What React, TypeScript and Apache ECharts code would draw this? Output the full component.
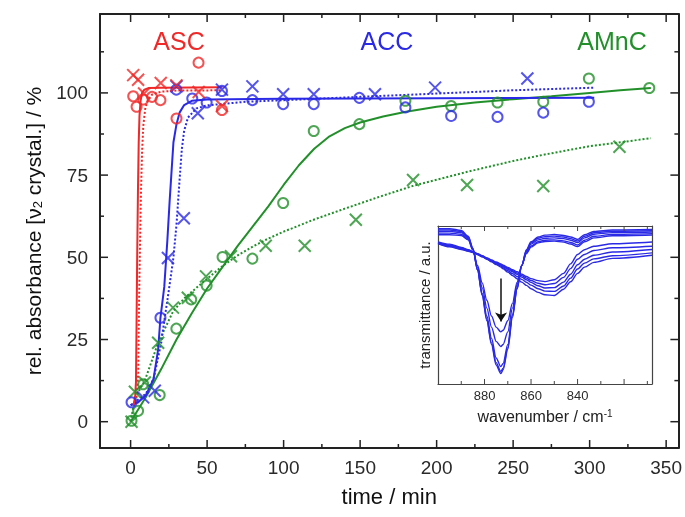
import React, { useEffect, useRef } from 'react';
import * as echarts from 'echarts';

const RED = '#f02828';
const BLUE = '#2a2ae6';
const GREEN = '#22902a';
const FONT = '"Liberation Sans", Arial, sans-serif';

// main axis ticks
const xMajor = [0, 50, 100, 150, 200, 250, 300, 350];
const xMinor = [25, 75, 125, 175, 225, 275, 325];
const yMajor = [0, 25, 50, 75, 100];
const yMinor = [12.5, 37.5, 62.5, 87.5, 112.5];

// ASC (red)
const ascCircles = [[1.7, 99], [3.9, 95.8], [8.2, 98], [14, 98.8], [19.5, 97.8], [30, 92.2], [44.4, 109.2], [59.7, 94.8]];
const ascCrosses = [[1.7, 105.4], [4.9, 104], [8.8, 99.8], [19.7, 103], [29.9, 102.3], [44.5, 100.3], [59.7, 96]];
const ascFitSolid = [[2, 5], [3, 8], [3.5, 12], [3.9, 30], [4.3, 50], [4.8, 70], [5.3, 85], [5.8, 93], [6.5, 97.5], [7.5, 100], [9, 101], [12, 101.5], [20, 101.6], [60, 101.7]];
const ascFitDotted = [[2, 5], [4, 8], [5, 15], [5.5, 35], [6, 50], [6.8, 70], [7.5, 82], [8.3, 90], [9.5, 95], [11, 97.5], [14, 99.5], [20, 100.4], [30, 100.7], [60, 100.8]];

// ACC (blue)
const accCircles = [[0.6, 5.9], [19.5, 31.6], [29.9, 101], [40.3, 98.3], [49.7, 97.1], [59.7, 100.6], [79.6, 97.8], [99.7, 96.6], [119.7, 96.6], [149.5, 98.5], [179.6, 95.6], [209.5, 93], [239.8, 92.7], [269.7, 94], [299.5, 97.3]];
const accCrosses = [[8.2, 7.4], [15.8, 9.4], [24.4, 49.8], [34.8, 61.9], [30, 102], [43.9, 93.8], [59.7, 101], [79.6, 102], [99.7, 99.6], [119.7, 99.6], [159.7, 99.6], [199, 101.6], [259.3, 104.4]];
const accFitSolid = [[0, 5], [5, 6], [10, 8], [15, 13], [18, 22], [19.5, 31.6], [22, 41], [24, 55], [25.5, 67], [26.6, 75], [28, 85], [30, 90.5], [32, 94], [35, 96.3], [40, 97.6], [50, 98], [100, 98.2], [200, 98.4], [303, 98.5]];
const accFitDotted = [[0, 5], [10, 8.5], [15, 13], [20, 24], [22.3, 31.6], [25, 40], [28, 50], [30, 60], [32, 73.5], [33.5, 83], [35, 88.5], [37.5, 92.5], [43, 95.3], [50, 96.2], [75, 97.3], [100, 97.8], [150, 98.8], [200, 99.8], [250, 100.8], [303, 101.6]];

// AMnC (green)
const amncCircles = [[0.6, 0.3], [4.9, 3.3], [8.2, 11.4], [19, 8.1], [29.9, 28.3], [39.6, 37.2], [49.7, 41.4], [60.1, 50.1], [79.6, 49.6], [99.7, 66.5], [119.7, 88.4], [149.5, 90.5], [179.6, 97.6], [209.5, 96], [239.8, 97.1], [269.7, 97.3], [299.5, 104.4], [339, 101.5]];
const amncCrosses = [[0.6, 0], [2.8, 9.1], [9.3, 11.9], [18, 24], [27.7, 34.7], [37.4, 37.7], [49.3, 44.2], [65.6, 50.3], [88.3, 53.5], [113.8, 53.5], [147.2, 61.4], [184.6, 73.5], [219.9, 72], [269.7, 71.7], [319.5, 83.6]];
const amncFitSolid = [[0, 0], [10, 7.5], [20, 16], [30, 25], [40, 33], [50, 40.5], [60, 47], [70, 53.5], [80, 59.5], [90, 65.5], [100, 72], [110, 78], [120, 83], [130, 86.8], [140, 89.3], [150, 91], [165, 92.8], [180, 94.3], [200, 95.8], [225, 97.1], [250, 98.1], [275, 99], [300, 100], [320, 100.8], [340, 101.5]];
const amncFitDotted = [[0, 0], [2, 5], [5, 9], [9.3, 12.5], [18, 24], [27.7, 33.5], [35, 37.5], [40, 39.5], [50, 43.5], [60, 47.3], [70, 50.6], [80, 53.3], [90, 55.7], [100, 57.8], [120, 61.5], [140, 64.8], [160, 68], [185, 71.8], [220, 76], [250, 79.3], [270, 81.2], [300, 83.8], [340, 86.2]];

// inset spectra
const insetLabels = [880, 860, 840];
const insetMajor = [880, 860, 840, 820];
const insetMinor = [890, 870, 850, 830, 810];
const wavenumbers = [900, 895, 890, 887, 885, 883, 881, 879, 877, 875, 873, 872, 870, 868, 866, 864, 862, 860, 857, 854, 850, 846, 843, 840, 837, 833, 825, 808];
const specC1 = [0.983, 0.983, 0.972, 0.935, 0.86, 0.72, 0.56, 0.4, 0.25, 0.12, 0.066, 0.09, 0.22, 0.42, 0.6, 0.75, 0.85, 0.9, 0.93, 0.942, 0.946, 0.94, 0.93, 0.915, 0.945, 0.965, 0.975, 0.978];
const specC2 = [0.975, 0.975, 0.965, 0.93, 0.857, 0.72, 0.565, 0.41, 0.26, 0.135, 0.08, 0.1, 0.23, 0.43, 0.605, 0.75, 0.845, 0.893, 0.922, 0.933, 0.936, 0.93, 0.92, 0.905, 0.935, 0.957, 0.967, 0.97];
const specC3 = [0.965, 0.966, 0.958, 0.925, 0.853, 0.725, 0.575, 0.43, 0.29, 0.165, 0.11, 0.13, 0.25, 0.44, 0.61, 0.748, 0.838, 0.885, 0.912, 0.922, 0.925, 0.92, 0.91, 0.895, 0.925, 0.948, 0.958, 0.962];
const specC4 = [0.955, 0.955, 0.948, 0.918, 0.85, 0.74, 0.61, 0.48, 0.36, 0.27, 0.237, 0.25, 0.33, 0.48, 0.63, 0.75, 0.83, 0.873, 0.9, 0.91, 0.912, 0.906, 0.896, 0.88, 0.91, 0.935, 0.947, 0.952];
const specC5 = [0.945, 0.945, 0.94, 0.912, 0.847, 0.75, 0.64, 0.53, 0.43, 0.36, 0.33, 0.34, 0.4, 0.51, 0.645, 0.752, 0.825, 0.866, 0.893, 0.902, 0.904, 0.898, 0.886, 0.87, 0.9, 0.925, 0.938, 0.943];
const specA1 = [0.9, 0.885, 0.865, 0.85, 0.838, 0.825, 0.812, 0.798, 0.785, 0.772, 0.76, 0.752, 0.738, 0.724, 0.71, 0.695, 0.68, 0.667, 0.654, 0.648, 0.66, 0.7, 0.76, 0.82, 0.85, 0.872, 0.888, 0.899];
const specA2 = [0.895, 0.88, 0.862, 0.848, 0.836, 0.823, 0.81, 0.796, 0.782, 0.768, 0.756, 0.747, 0.732, 0.717, 0.702, 0.686, 0.67, 0.655, 0.638, 0.628, 0.636, 0.675, 0.73, 0.79, 0.82, 0.845, 0.862, 0.872];
const specA3 = [0.892, 0.876, 0.858, 0.846, 0.835, 0.822, 0.808, 0.794, 0.779, 0.765, 0.752, 0.742, 0.726, 0.71, 0.694, 0.677, 0.66, 0.643, 0.622, 0.608, 0.61, 0.645, 0.695, 0.755, 0.79, 0.815, 0.835, 0.851];
const specA4 = [0.89, 0.872, 0.855, 0.843, 0.833, 0.82, 0.806, 0.792, 0.776, 0.76, 0.746, 0.736, 0.717, 0.699, 0.68, 0.662, 0.644, 0.626, 0.603, 0.588, 0.586, 0.62, 0.67, 0.728, 0.765, 0.792, 0.812, 0.83];
const specA5 = [0.889, 0.868, 0.851, 0.84, 0.832, 0.819, 0.805, 0.79, 0.773, 0.756, 0.74, 0.729, 0.708, 0.687, 0.666, 0.645, 0.624, 0.603, 0.58, 0.565, 0.56, 0.6, 0.647, 0.7, 0.74, 0.77, 0.795, 0.815];
const arrowFrom = [872.9, 0.668];
const arrowTo = [872.9, 0.395];

// axis ranges
const X_MIN = -20, X_MAX = 358, Y_MIN = -8, Y_MAX = 124;
const IX_MIN = 808, IX_MAX = 900, IY_MIN = 0, IY_MAX = 1;

const CROSS = 'path://M0,0L10,10M10,0L0,10';

function scatter(data: number[][], color: string, kind: 'o' | 'x') {
  return {
    type: 'scatter',
    data,
    symbol: kind === 'o' ? 'circle' : CROSS,
    symbolSize: kind === 'o' ? 10 : 12,
    itemStyle: { color: 'rgba(0,0,0,0)', borderColor: color, borderWidth: 2 },
    xAxisIndex: 0,
    yAxisIndex: 0,
    z: 4,
  };
}

function fit(data: number[][], color: string, dotted: boolean) {
  return {
    type: 'line',
    data,
    showSymbol: false,
    symbol: 'none',
    smooth: false,
    lineStyle: { color, width: 2, type: dotted ? 'dotted' : 'solid' },
    xAxisIndex: 0,
    yAxisIndex: 0,
    z: 3,
  };
}

function spectrum(vals: number[], withArrow: boolean) {
  const s: any = {
    type: 'line',
    data: wavenumbers.map((w, i) => [w, vals[i]]),
    showSymbol: false,
    symbol: 'none',
    smooth: 0.3,
    smoothMonotone: 'x',
    lineStyle: { color: BLUE, width: 1.4 },
    xAxisIndex: 2,
    yAxisIndex: 2,
    z: 6,
  };
  if (withArrow) {
    s.markLine = {
      symbol: ['none', 'arrow'],
      symbolSize: 9,
      label: { show: false },
      lineStyle: { color: '#111', type: 'solid', width: 1.5 },
      data: [[{ coord: arrowFrom }, { coord: arrowTo }]],
    };
  }
  return s;
}

// inward ticks on all four sides, placed through the axes' own scales
function tickSeries(xi: number, yi: number, anchor: number[], xr: number[], yr: number[], xMaj: number[], xMin: number[], yMaj: number[], yMin: number[], majLen: number, minLen: number, color: string, width: number) {
  return {
    type: 'custom',
    xAxisIndex: xi,
    yAxisIndex: yi,
    data: [anchor],
    clip: false,
    z: 20,
    renderItem: (_params: any, api: any) => {
      const children: any[] = [];
      const add = (x1: number, y1: number, x2: number, y2: number) => {
        children.push({ type: 'line', shape: { x1, y1, x2, y2 }, style: { stroke: color, lineWidth: width } });
      };
      xMaj.concat(xMin).forEach((v, i) => {
        const len = i < xMaj.length ? majLen : minLen;
        const b = api.coord([v, yr[0]]);
        const t = api.coord([v, yr[1]]);
        add(b[0], b[1], b[0], b[1] - len);
        add(t[0], t[1], t[0], t[1] + len);
      });
      yMaj.concat(yMin).forEach((v, i) => {
        const len = i < yMaj.length ? majLen : minLen;
        const l = api.coord([xr[0], v]);
        const r = api.coord([xr[1], v]);
        const dir = r[0] > l[0] ? 1 : -1;
        add(l[0], l[1], l[0] + dir * len, l[1]);
        add(r[0], r[1], r[0] - dir * len, r[1]);
      });
      return { type: 'group', children };
    },
  };
}

const MAINC = '#222';
const INSC = '#444';

export default function App() {
  const ref = useRef<HTMLDivElement>(null);
  useEffect(() => {
    if (!ref.current) return;
    const chart = echarts.init(ref.current, undefined, { renderer: 'svg' });
    const mainLine = { show: true, onZero: false, lineStyle: { color: MAINC, width: 2 } };
    const insLine = { show: true, onZero: false, lineStyle: { color: INSC, width: 1.2 } };
    const option: any = {
      animation: false,
      grid: [
        { left: 100, right: 3, top: 14, bottom: 69 },
        { left: 438, top: 226, width: 214, height: 158, show: true, borderWidth: 0, backgroundColor: '#ffffff' },
      ],
      xAxis: [
        {
          type: 'value', gridIndex: 0, min: X_MIN, max: X_MAX, position: 'bottom',
          axisLine: mainLine, splitLine: { show: false }, axisTick: { show: false },
          axisLabel: { show: true, customValues: xMajor, fontSize: 19, color: '#2a2a2a', margin: 10, fontFamily: FONT },
          name: 'time / min', nameLocation: 'middle', nameGap: 37,
          nameTextStyle: { fontSize: 22, color: '#111', fontFamily: FONT },
        },
        {
          type: 'value', gridIndex: 0, min: X_MIN, max: X_MAX, position: 'top',
          axisLine: mainLine, splitLine: { show: false }, axisTick: { show: false }, axisLabel: { show: false },
        },
        {
          type: 'value', gridIndex: 1, min: IX_MIN, max: IX_MAX, inverse: true, position: 'bottom',
          axisLine: insLine, splitLine: { show: false }, axisTick: { show: false },
          axisLabel: { show: true, customValues: insetLabels, fontSize: 13, color: '#2a2a2a', margin: 5, fontFamily: FONT },
          name: 'wavenumber / cm{sup|-1}', nameLocation: 'middle', nameGap: 24,
          nameTextStyle: { fontSize: 16, color: '#222', fontFamily: FONT, rich: { sup: { fontSize: 10, verticalAlign: 'top', color: '#222', fontFamily: FONT } } },
        },
        {
          type: 'value', gridIndex: 1, min: IX_MIN, max: IX_MAX, inverse: true, position: 'top',
          axisLine: insLine, splitLine: { show: false }, axisTick: { show: false }, axisLabel: { show: false },
        },
      ],
      yAxis: [
        {
          type: 'value', gridIndex: 0, min: Y_MIN, max: Y_MAX, position: 'left',
          axisLine: mainLine, splitLine: { show: false }, axisTick: { show: false },
          axisLabel: { show: true, customValues: yMajor, fontSize: 19, color: '#2a2a2a', margin: 12, fontFamily: FONT },
          name: 'rel. absorbance [ν{sub|2} crystal.] / %', nameLocation: 'middle', nameGap: 56,
          nameTextStyle: { fontSize: 21, color: '#111', fontFamily: FONT, rich: { sub: { fontSize: 13, verticalAlign: 'bottom', color: '#111', fontFamily: FONT } } },
        },
        {
          type: 'value', gridIndex: 0, min: Y_MIN, max: Y_MAX, position: 'right',
          axisLine: mainLine, splitLine: { show: false }, axisTick: { show: false }, axisLabel: { show: false },
        },
        {
          type: 'value', gridIndex: 1, min: IY_MIN, max: IY_MAX, position: 'left',
          axisLine: insLine, splitLine: { show: false }, axisTick: { show: false }, axisLabel: { show: false },
          name: 'transmittance / a.u.', nameLocation: 'middle', nameGap: 6,
          nameTextStyle: { fontSize: 15, color: '#222', fontFamily: FONT },
        },
        {
          type: 'value', gridIndex: 1, min: IY_MIN, max: IY_MAX, position: 'right',
          axisLine: insLine, splitLine: { show: false }, axisTick: { show: false }, axisLabel: { show: false },
        },
      ],
      graphic: [
        { type: 'text', x: 179, y: 41, silent: true, style: { text: 'ASC', fill: RED, fontSize: 25, fontFamily: FONT, align: 'center', verticalAlign: 'middle' } },
        { type: 'text', x: 387, y: 41, silent: true, style: { text: 'ACC', fill: BLUE, fontSize: 25, fontFamily: FONT, align: 'center', verticalAlign: 'middle' } },
        { type: 'text', x: 612, y: 41, silent: true, style: { text: 'AMnC', fill: GREEN, fontSize: 25, fontFamily: FONT, align: 'center', verticalAlign: 'middle' } },
      ],
      series: [
        fit(amncFitSolid, GREEN, false),
        fit(amncFitDotted, GREEN, true),
        fit(accFitSolid, BLUE, false),
        fit(accFitDotted, BLUE, true),
        fit(ascFitSolid, RED, false),
        fit(ascFitDotted, RED, true),
        scatter(amncCircles, GREEN, 'o'),
        scatter(amncCrosses, GREEN, 'x'),
        scatter(accCircles, BLUE, 'o'),
        scatter(accCrosses, BLUE, 'x'),
        scatter(ascCircles, RED, 'o'),
        scatter(ascCrosses, RED, 'x'),
        spectrum(specA1, false),
        spectrum(specA2, false),
        spectrum(specA3, false),
        spectrum(specA4, false),
        spectrum(specA5, false),
        spectrum(specC5, false),
        spectrum(specC4, false),
        spectrum(specC3, false),
        spectrum(specC2, false),
        spectrum(specC1, true),
        tickSeries(0, 0, [100, 50], [X_MIN, X_MAX], [Y_MIN, Y_MAX], xMajor, xMinor, yMajor, yMinor, 8, 4, MAINC, 1.5),
        tickSeries(2, 2, [860, 0.5], [IX_MIN, IX_MAX], [IY_MIN, IY_MAX], insetMajor, insetMinor, [], [], 5, 3, INSC, 1),
      ],
    };
    chart.setOption(option);
    return () => chart.dispose();
  }, []);
  return <div ref={ref} style={{ position: 'fixed', left: 0, top: 0, width: 685, height: 517 }} />;
}
